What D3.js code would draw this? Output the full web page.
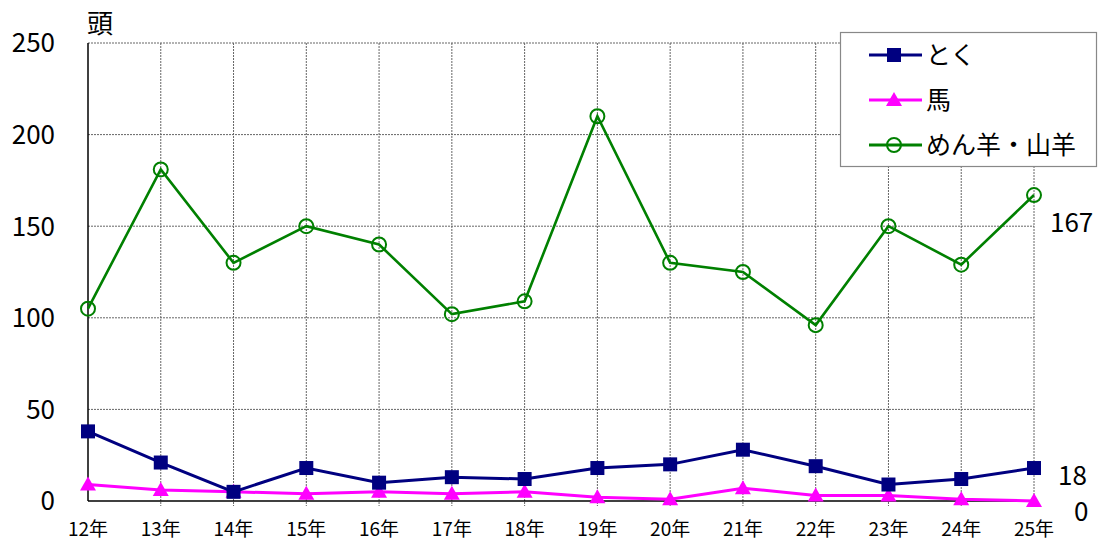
<!DOCTYPE html>
<html>
<head>
<meta charset="utf-8">
<title>頭数の推移</title>
<script src="https://cdn.jsdelivr.net/npm/d3@7"></script>
<style>
body { margin: 0; background: #fff; }
text { font-family: "Noto Sans CJK JP", sans-serif; fill: #000; }
</style>
</head>
<body>
<div id="chart"></div>
<script>
// data
var years = ["12年", "13年", "14年", "15年", "16年", "17年", "18年", "19年", "20年", "21年", "22年", "23年", "24年", "25年"];
var toku = [38, 21, 5, 18, 10, 13, 12, 18, 20, 28, 19, 9, 12, 18];
var uma = [9, 6, 5, 4, 5, 4, 5, 2, 1, 7, 3, 3, 1, 0];
var yagi = [105, 181, 130, 150, 140, 102, 109, 210, 130, 125, 96, 150, 129, 167];
var yTicks = [0, 50, 100, 150, 200, 250];

var series = [
  {name: "とく", values: toku, color: "#000080", marker: "square"},
  {name: "馬", values: uma, color: "#ff00ff", marker: "triangle"},
  {name: "めん羊・山羊", values: yagi, color: "#008000", marker: "circle"}
];

var svgWidth = 1101, svgHeight = 542;
var margin = {top: 43, right: 67, bottom: 41, left: 88};
var width = svgWidth - margin.left - margin.right,
    height = svgHeight - margin.top - margin.bottom;

var svg = d3.select("#chart").append("svg")
    .attr("width", svgWidth)
    .attr("height", svgHeight);

var g = svg.append("g")
    .attr("transform", "translate(" + margin.left + "," + margin.top + ")");

var x = d3.scalePoint().domain(years).range([0, width]);
var y = d3.scaleLinear().domain([0, 250]).range([height, 0]);

// grid
g.selectAll(".hgrid")
  .data(yTicks.filter(function(d) { return d > 0; }))
  .enter().append("line")
    .attr("x1", 0).attr("x2", width)
    .attr("y1", function(d) { return y(d); })
    .attr("y2", function(d) { return y(d); })
    .attr("stroke", "#666")
    .attr("stroke-dasharray", "2,1");

g.selectAll(".vgrid")
  .data(years.slice(1))
  .enter().append("line")
    .attr("x1", function(d) { return x(d); })
    .attr("x2", function(d) { return x(d); })
    .attr("y1", 0).attr("y2", height + 5)
    .attr("stroke", "#666")
    .attr("stroke-dasharray", "2,1");

// axes
g.append("line").attr("x1", 0).attr("x2", 0).attr("y1", 0).attr("y2", height)
  .attr("stroke", "#000").attr("stroke-width", 1.5);
g.append("line").attr("x1", 0).attr("x2", width).attr("y1", height).attr("y2", height)
  .attr("stroke", "#000").attr("stroke-width", 1.5);

g.selectAll(".ylab")
  .data(yTicks)
  .enter().append("text")
    .attr("x", -33)
    .attr("y", function(d) { return y(d); })
    .attr("dy", "0.36em")
    .attr("text-anchor", "end")
    .style("font-size", "26px")
    .text(function(d) { return d; });

g.selectAll(".xlab")
  .data(years)
  .enter().append("text")
    .attr("x", function(d) { return x(d); })
    .attr("y", height + 28)
    .attr("dy", "0.35em")
    .attr("text-anchor", "middle")
    .style("font-size", "19px")
    .text(function(d) { return d; });

g.append("text")
  .attr("x", -1)
  .attr("y", -10)
  .style("font-size", "26px")
  .text("頭");

// markers
function drawMarker(sel, type, color) {
  if (type === "square") {
    sel.append("rect")
      .attr("x", -7).attr("y", -7).attr("width", 14).attr("height", 14)
      .attr("fill", color);
  } else if (type === "triangle") {
    sel.append("path")
      .attr("d", "M0,-8L8,6L-8,6Z")
      .attr("fill", color);
  } else {
    sel.append("circle")
      .attr("r", 7)
      .attr("fill", "none")
      .attr("stroke", color)
      .attr("stroke-width", 2);
  }
}

var line = d3.line()
  .x(function(d, i) { return x(years[i]); })
  .y(function(d) { return y(d); });

series.slice().reverse().forEach(function(s) {
  g.append("path")
    .attr("d", line(s.values))
    .attr("fill", "none")
    .attr("stroke", s.color)
    .attr("stroke-width", s.marker === "circle" ? 2.6 : 3);

  g.selectAll(".m-" + s.marker)
    .data(s.values)
    .enter().append("g")
      .attr("transform", function(d, i) { return "translate(" + x(years[i]) + "," + y(d) + ")"; })
      .each(function() { drawMarker(d3.select(this), s.marker, s.color); });
});

// end value labels
var endLabels = [
  {v: yagi[yagi.length - 1], dy: 28, dx: 16},
  {v: toku[toku.length - 1], dy: 8, dx: 24},
  {v: uma[uma.length - 1], dy: 11, dx: 40}
];
g.selectAll(".endlab")
  .data(endLabels)
  .enter().append("text")
    .attr("x", function(d) { return width + d.dx; })
    .attr("y", function(d) { return y(d.v) + d.dy; })
    .attr("dy", "0.35em")
    .style("font-size", "26px")
    .text(function(d) { return d.v; });

// legend
var legend = svg.append("g").attr("transform", "translate(840,32)");
legend.append("rect")
  .attr("x", 0.5).attr("y", 0.5)
  .attr("width", 256).attr("height", 134)
  .attr("fill", "#fff")
  .attr("stroke", "#888")
  .attr("stroke-width", 1.2);

var rows = legend.selectAll(".row")
  .data(series)
  .enter().append("g")
    .attr("transform", function(d, i) { return "translate(0," + (23 + i * 45) + ")"; });

rows.append("line")
  .attr("x1", 29).attr("x2", 82)
  .attr("stroke", function(d) { return d.color; })
  .attr("stroke-width", 3);

rows.each(function(d) {
  var m = d3.select(this).append("g").attr("transform", "translate(54,0)");
  drawMarker(m, d.marker, d.color);
});

rows.append("text")
  .attr("x", 86)
  .attr("dy", "0.36em")
  .style("font-size", "25px")
  .text(function(d) { return d.name; });
</script>
</body>
</html>
